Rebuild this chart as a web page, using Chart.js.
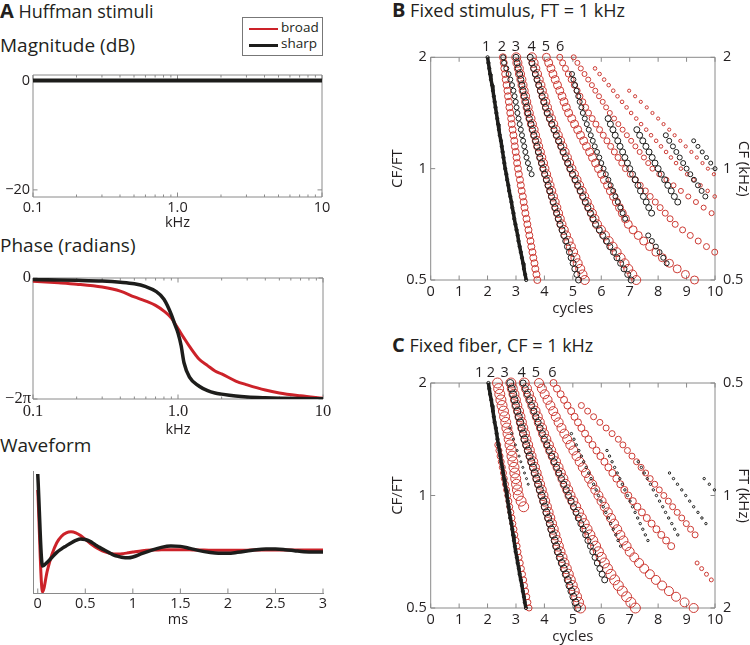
<!DOCTYPE html>
<html><head><meta charset="utf-8">
<script src="https://cdn.jsdelivr.net/npm/chart.js@4/dist/chart.umd.min.js"></script>
<style>
html,body{margin:0;padding:0;overflow:hidden;background:#fff}
body{width:750px;height:645px;position:relative;font-family:'Open Sans',sans-serif;color:#231f20}
.t{position:absolute;white-space:nowrap;line-height:1}
canvas{position:absolute}
</style></head><body>
<div class="t" style="left:0;top:1px;font-size:18px"><b style="font-size:20px">A</b> Huffman stimuli</div>
<div class="t" style="left:0;top:36px;font-size:19px">Magnitude (dB)</div>
<div class="t" style="left:0;top:236px;font-size:19px">Phase (radians)</div>
<div class="t" style="left:0;top:436px;font-size:19px">Waveform</div>
<div class="t" style="left:392px;top:0;font-size:18px"><b style="font-size:20px">B</b> Fixed stimulus, FT = 1 kHz</div>
<div class="t" style="left:392px;top:335px;font-size:18px"><b style="font-size:20px">C</b> Fixed fiber, CF = 1 kHz</div>

<div style="position:absolute;left:242px;top:17px;width:79px;height:37px;border:1px solid #777;background:#fff;z-index:2">
  <div style="position:absolute;left:6px;top:9.5px;width:29px;height:2.5px;background:#cc2229"></div>
  <div class="t" style="left:38px;top:2.5px;font-size:13.5px">broad</div>
  <div style="position:absolute;left:6px;top:25.5px;width:29px;height:3px;background:#1d1d1b"></div>
  <div class="t" style="left:38px;top:19px;font-size:13.5px">sharp</div>
</div>

<canvas id="mag" width="345" height="180" style="left:0;top:55px"></canvas>
<canvas id="phase" width="345" height="185" style="left:0;top:260px"></canvas>
<canvas id="wave" width="345" height="180" style="left:0;top:460px"></canvas>
<canvas id="pB" width="375" height="290" style="left:380px;top:30px"></canvas>
<canvas id="pC" width="375" height="290" style="left:380px;top:358px"></canvas>

<script>
// ---------------- DATA ----------------
const _ = null;
// Magnitude
const magFreqs = [0.1, 10];
const magBroad = [0, 0];
const magSharp = [0, 0];
// Phase (radians)
const phaseFreqs = [0.1,0.15,0.2,0.3,0.4,0.5,0.6,0.7,0.8,0.9,0.95,1.0,1.05,1.1,1.2,1.4,1.6,1.8,2,2.5,3,4,5,7,10];
const phaseBroad = [-0.17,-0.25,-0.32,-0.47,-0.68,-0.98,-1.2,-1.42,-1.72,-2.08,-2.35,-2.62,-2.88,-3.12,-3.55,-4.22,-4.55,-4.83,-4.98,-5.35,-5.55,-5.82,-5.97,-6.12,-6.25];
const phaseSharp = [-0.08,-0.1,-0.12,-0.16,-0.22,-0.3,-0.45,-0.68,-1.1,-1.9,-2.4,-2.86,-3.5,-4.4,-5.15,-5.62,-5.85,-5.97,-6.03,-6.13,-6.18,-6.22,-6.24,-6.26,-6.27];
// Waveform
const waveTimes = [0,0.05,0.1,0.15,0.2,0.25,0.3,0.35,0.4,0.45,0.5,0.55,0.6,0.65,0.7,0.75,0.8,0.85,0.9,0.95,1.0,1.1,1.2,1.3,1.4,1.5,1.6,1.7,1.8,1.9,2.0,2.1,2.2,2.3,2.4,2.5,2.6,2.7,2.8,2.9,3.0];
const waveSharp = [7.8,-1.47,-1.1,-0.6,-0.1,0.25,0.55,0.85,1.1,1.25,1.2,1.0,0.7,0.4,0.13,-0.13,-0.37,-0.52,-0.63,-0.65,-0.57,-0.2,0.13,0.4,0.53,0.5,0.3,0.07,-0.1,-0.2,-0.2,-0.1,0.03,0.17,0.23,0.23,0.17,0.07,-0.03,-0.07,-0.07];
const waveBroad = [6.2,-4.1,-1.97,-0.3,0.87,1.53,1.87,1.97,1.87,1.6,1.2,0.82,0.47,0.2,-0.03,-0.18,-0.27,-0.28,-0.23,-0.15,-0.07,0.07,0.13,0.15,0.17,0.17,0.15,0.13,0.12,0.1,0.1,0.11,0.12,0.13,0.13,0.13,0.13,0.13,0.13,0.13,0.13];

// tick values / labels
const freqTicks = [0.1,0.2,0.3,0.4,0.5,0.6,0.7,0.8,0.9,1,2,3,4,5,6,7,8,9,10];
const freqMajor = [0.1,1,10];
const freqLabels = {'0.1':'0.1','1':'1.0','10':'10'};
const magTicks = [-20, 0];
const magLabels = {'-20':'\u221220','0':'0'};
const phaseTicks = [-2*Math.PI, 0];
const phaseLabels = ['\u22122\u03c0','0'];
const msTicks = [0,0.5,1,1.5,2,2.5,3];
const cycTicks = [0,1,2,3,4,5,6,7,8,9,10];
const ratioTicks = [0.5,1,2];
const ratioLabels = {'0.5':'0.5','1':'1','2':'2'};
const peakLabels = ['1','2','3','4','5','6'];
const peakPosB = [1.95,2.5,3.0,3.55,4.05,4.55];
const peakPosC = [1.7,2.12,2.6,3.2,3.7,4.28];

// CF/FT rows (top to bottom)
const cfGrid = [2,1.9319,1.8661,1.8025,1.7411,1.6818,1.6245,1.5692,1.5157,1.4641,1.4142,1.3660,1.3195,1.2746,1.2311,1.1892,1.1487,1.1096,1.0718,1.0353,1,0.9659,0.9330,0.9013,0.8706,0.8409,0.8123,0.7846,0.7579,0.7320,0.7071,0.6830,0.6598,0.6373,0.6156,0.5946,0.5743,0.5548,0.5359,0.5176,0.5];

// Panel B peak times (cycles) - sharp (black)
const bK1 = [2.00,2.03,2.06,2.09,2.12,2.16,2.19,2.22,2.25,2.28,2.31,2.34,2.37,2.40,2.43,2.47,2.50,2.53,2.56,2.59,2.62,2.66,2.69,2.73,2.76,2.80,2.84,2.87,2.91,2.94,2.98,3.02,3.06,3.09,3.13,3.17,3.21,3.25,3.28,3.32,3.36];
const bK2 = [2.55,2.58,2.66,2.74,2.80,2.86,2.91,2.95,2.99,3.02,3.05,3.09,3.13,3.17,3.21,3.25,3.29,3.33,3.37,3.42,3.48,3.55,_,_,_,_,_,_,_,_,_,_,_,_,_,_,_,_,_,_,_];
const bK3 = [3.00,3.04,3.08,3.13,3.17,3.21,3.25,3.29,3.34,3.38,3.42,3.47,3.53,3.58,3.63,3.69,3.74,3.79,3.84,3.90,3.95,4.01,4.07,4.13,4.19,4.25,4.31,4.37,4.43,4.49,4.55,4.62,4.68,4.75,4.81,4.88,4.94,5.01,5.07,5.14,5.20];
const bK4 = [3.50,3.56,3.62,3.68,3.74,3.80,3.86,3.92,3.98,4.04,4.10,4.18,4.26,4.34,4.42,4.50,4.58,4.66,4.74,4.82,4.90,4.99,5.08,5.17,5.26,5.35,5.44,5.53,5.62,5.71,5.80,5.93,6.05,6.18,6.30,6.43,6.55,6.68,6.80,6.93,7.05];
const bK5 = [_,_,_,4.97,5.02,5.08,5.13,5.19,5.24,5.30,5.35,5.42,5.49,5.56,5.63,5.70,5.77,5.85,5.93,6.00,6.08,6.16,6.25,6.33,6.42,6.50,6.58,6.67,6.75,6.84,_,_,_,_,_,_,_,_,_,_,_];
const bK6 = [_,_,_,_,_,_,_,_,_,_,_,6.24,6.32,6.41,6.49,6.58,6.66,6.75,6.83,6.92,7.00,7.10,7.19,7.29,7.38,7.48,7.58,7.67,7.77,_,_,_,_,_,_,_,_,_,_,_,_];
const bK7 = [_,_,_,_,_,_,_,_,_,_,_,_,_,7.25,7.35,7.46,7.57,7.68,7.79,7.89,8.00,8.11,8.23,8.34,8.46,8.57,8.69,_,_,_,_,_,_,_,_,_,_,_,_,_,_];
const bK8 = [_,_,_,_,_,_,_,_,_,_,_,_,_,_,8.27,8.39,8.52,8.64,8.76,8.88,9.00,9.13,9.26,9.40,9.53,9.66,_,_,_,_,_,_,_,_,_,_,_,_,_,_,_];
const bK9 = [_,_,_,_,_,_,_,_,_,_,_,_,_,_,_,9.25,9.40,9.55,9.70,9.85,10.0,_,_,_,_,_,_,_,_,_,_,_,_,_,_,_,_,_,_,_,_];
const bK10 = [_,_,_,_,_,_,_,_,_,_,_,_,_,_,_,_,_,_,_,_,_,_,_,_,_,_,_,_,_,_,_,_,7.65,7.78,7.92,8.05,8.18,8.30,_,_,_];
// Panel B - broad (red)
const bR1 = [2.54,2.57,2.59,2.62,2.64,2.67,2.70,2.72,2.75,2.77,2.80,2.83,2.85,2.88,2.91,2.94,2.96,2.99,3.02,3.04,3.07,3.10,3.14,3.17,3.20,3.24,3.27,3.30,3.33,3.37,3.40,3.44,3.47,3.51,3.54,3.58,3.61,3.65,3.68,3.72,3.75];
const bR2 = [3.01,3.05,3.10,3.14,3.19,3.23,3.27,3.32,3.36,3.41,3.45,3.51,3.56,3.62,3.67,3.73,3.78,3.84,3.89,3.95,4.00,4.06,4.12,4.18,4.24,4.30,4.36,4.42,4.48,4.54,4.60,4.68,4.76,4.85,4.93,5.01,5.09,5.17,5.26,5.34,5.42];
const bR3 = [3.56,3.62,3.68,3.74,3.80,3.86,3.91,3.97,4.03,4.09,4.15,4.23,4.31,4.39,4.47,4.55,4.63,4.71,4.79,4.87,4.95,5.04,5.13,5.22,5.31,5.40,5.49,5.58,5.67,5.76,5.85,5.99,6.13,6.26,6.40,6.54,6.68,6.82,6.95,7.09,7.23];
const bR4 = [4.07,4.15,4.23,4.30,4.38,4.46,4.54,4.62,4.69,4.77,4.85,4.96,5.06,5.17,5.27,5.38,5.48,5.59,5.69,5.80,5.90,6.01,6.11,6.22,6.32,6.43,6.53,6.64,6.74,6.85,6.95,7.12,7.30,7.49,7.70,7.92,8.15,8.40,8.67,8.96,9.28];
const bR5 = [4.54,4.64,4.74,4.84,4.94,5.05,5.15,5.25,5.35,5.45,5.55,5.68,5.81,5.94,6.07,6.20,6.33,6.46,6.59,6.72,6.85,7.02,7.20,7.37,7.55,7.72,7.90,8.07,8.25,8.42,8.60,8.86,9.13,9.41,9.70,9.99,_,_,_,_,_];
const bR6 = [5.03,5.16,5.28,5.41,5.54,5.67,5.79,5.92,6.05,6.17,6.30,6.45,6.60,6.75,6.90,7.05,7.20,7.35,7.50,7.65,7.80,8.04,8.29,8.54,8.80,9.06,9.33,9.60,9.88,_,_,_,_,_,_,_,_,_,_,_,_];
const bR7 = [_,_,5.78,5.94,6.10,6.26,6.42,6.57,6.73,6.89,7.05,7.23,7.40,7.58,7.75,7.93,8.10,8.28,8.45,8.63,8.80,9.02,9.25,9.49,9.74,9.99,_,_,_,_,_,_,_,_,_,_,_,_,_,_,_];
const bR8 = [_,_,_,_,_,_,6.98,7.19,7.39,7.60,7.80,8.00,8.19,8.39,8.58,8.78,8.97,9.17,9.36,9.56,9.75,9.96,_,_,_,_,_,_,_,_,_,_,_,_,_,_,_,_,_,_,_];

// Panel C - sharp (black)
const cK1 = [2.03,2.06,2.09,2.13,2.16,2.19,2.22,2.25,2.29,2.32,2.35,2.38,2.42,2.45,2.48,2.52,2.55,2.58,2.61,2.65,2.68,2.71,2.74,2.77,2.80,2.84,2.87,2.90,2.93,2.96,2.99,3.03,3.06,3.10,3.13,3.17,3.21,3.24,3.28,3.31,3.35];
const cK2 = [_,_,_,_,_,_,_,_,2.78,2.85,2.91,2.98,3.04,3.11,3.17,3.24,3.30,3.37,3.43,_,_,_,_,_,_,_,_,_,_,_,_,_,_,_,_,_,_,_,_,_,_];
const cK3 = [2.80,2.85,2.90,2.95,3.00,3.05,3.10,3.15,3.20,3.25,3.30,3.36,3.42,3.48,3.54,3.60,3.66,3.72,3.78,3.84,3.90,3.96,4.01,4.07,4.13,4.19,4.24,4.30,4.36,4.41,4.47,4.54,4.61,4.68,4.75,4.82,4.88,4.95,5.02,5.09,5.16];
const cK4 = [3.25,3.33,3.40,3.48,3.55,3.63,3.70,3.78,3.85,3.93,4.00,4.09,4.17,4.26,4.34,4.43,4.51,4.60,4.68,4.77,4.85,4.94,5.02,5.11,5.19,5.28,5.36,5.45,5.53,5.62,5.70,5.78,5.86,5.95,6.03,6.12,_,_,_,_,_];
const cK5 = [_,_,_,_,_,_,_,_,_,4.95,5.04,5.12,5.21,5.30,5.38,5.47,5.56,5.64,5.73,5.82,5.90,5.99,6.07,6.16,6.25,6.33,6.42,6.51,6.59,6.68,_,_,_,_,_,_,_,_,_,_,_];
const cK6 = [_,_,_,_,_,_,_,_,_,_,_,_,6.20,6.29,6.38,6.47,6.56,6.65,6.74,6.83,6.92,7.01,7.10,7.19,7.28,7.37,7.46,7.55,7.64,_,_,_,_,_,_,_,_,_,_,_,_];
const cK7 = [_,_,_,_,_,_,_,_,_,_,_,_,_,_,7.30,7.41,7.51,7.62,7.73,7.83,7.94,8.05,8.16,8.26,8.37,8.48,8.58,8.69,_,_,_,_,_,_,_,_,_,_,_,_,_];
const cK8 = [_,_,_,_,_,_,_,_,_,_,_,_,_,_,_,_,8.40,8.54,8.68,8.83,8.97,9.11,9.25,9.40,9.54,9.68,_,_,_,_,_,_,_,_,_,_,_,_,_,_,_];
const cK9 = [_,_,_,_,_,_,_,_,_,_,_,_,_,_,_,_,_,9.62,9.80,9.98,_,_,_,_,_,_,_,_,_,_,_,_,_,_,_,_,_,_,_,_,_];
// Panel C - broad (red)
const cR0 = [_,_,_,_,_,_,_,_,_,_,_,2.36,2.40,2.44,2.48,2.52,2.56,2.59,2.63,2.67,2.71,2.75,2.78,2.82,2.86,2.89,2.93,2.96,3.00,3.04,3.07,3.11,3.15,3.19,3.23,3.27,3.30,3.34,3.38,3.42,3.46];
const cR1 = [2.35,2.39,2.43,2.47,2.51,2.56,2.60,2.64,2.68,2.72,2.76,2.79,2.83,2.86,2.89,2.93,2.96,2.99,3.02,3.05,3.08,3.18,3.27,_,_,_,_,_,_,_,_,_,_,_,_,_,_,_,_,_,_];
const cR2 = [2.82,2.87,2.93,2.98,3.03,3.09,3.14,3.19,3.24,3.30,3.35,3.41,3.47,3.53,3.59,3.65,3.71,3.77,3.83,3.89,3.95,4.01,4.07,4.13,4.19,4.25,4.31,4.37,4.43,4.49,4.55,4.62,4.69,4.77,4.84,4.91,4.98,5.05,5.13,5.20,5.27];
const cR3 = [3.29,3.37,3.44,3.52,3.59,3.67,3.75,3.82,3.90,3.97,4.05,4.14,4.22,4.31,4.39,4.48,4.56,4.65,4.73,4.82,4.90,5.00,5.10,5.20,5.30,5.40,5.50,5.60,5.70,5.80,5.90,6.00,6.11,6.22,6.34,6.47,6.60,6.74,6.89,7.04,7.20];
const cR4 = [3.81,3.91,4.01,4.11,4.21,4.31,4.40,4.50,4.60,4.70,4.80,4.91,5.02,5.13,5.24,5.35,5.46,5.57,5.68,5.79,5.90,6.01,6.12,6.23,6.34,6.45,6.56,6.67,6.78,6.89,7.00,7.16,7.33,7.51,7.71,7.92,8.14,8.38,8.63,8.93,9.25];
const cR5 = [4.32,4.44,4.57,4.69,4.81,4.94,5.06,5.18,5.30,5.43,5.55,5.69,5.83,5.97,6.11,6.25,6.39,6.53,6.67,6.81,6.95,7.11,7.27,7.43,7.60,7.77,7.94,8.11,8.28,8.46,_,_,_,_,_,_,_,_,_,_,_];
const cR6 = [_,_,_,_,5.30,5.52,5.73,5.95,6.17,6.38,6.60,6.76,6.92,7.08,7.24,7.40,7.56,7.72,7.88,8.04,8.20,8.36,8.51,8.67,8.83,8.99,9.14,9.30,_,_,_,_,_,_,_,_,_,_,_,_,_];
const cR7 = [_,_,_,_,_,_,_,_,_,_,_,_,_,_,_,_,_,_,_,_,_,_,_,_,_,_,_,_,_,_,_,_,9.37,9.53,9.70,9.87,_,_,_,_,_];

// ---------------- STYLE ----------------
const FONT = "'Open Sans', sans-serif";
const SERIF = "'Liberation Serif', 'DejaVu Serif', serif";
const RED = '#cc2229', RED_C = '#cc3a33', BLACK = '#1d1d1b', AXIS = '#8a8a8a', TXT = '#231f20';
Chart.defaults.font.family = FONT;
Chart.defaults.color = TXT;

function fix(size, horiz) {
  return function (s) {
    if (horiz) s.height = size; else s.width = size;
    s.paddingLeft = 0; s.paddingRight = 0; s.paddingTop = 0; s.paddingBottom = 0;
  };
}
function setTicks(vals) { return s => { s.ticks = vals.map(v => ({ value: v })); }; }
function xy(xs, ys) { return xs.map((x, i) => ({ x: x, y: ys[i] })); }
function pts(arr) { const o = []; arr.forEach((x, i) => { if (x !== null) o.push({ x: x, y: cfGrid[i] }); }); return o; }

const axesPlugin = {
  id: 'mAxes',
  beforeDatasetsDraw(chart, args, o) {
    const { ctx, chartArea: a, scales } = chart;
    ctx.save();
    ctx.strokeStyle = AXIS; ctx.lineWidth = 1;
    ctx.beginPath();
    const L = a.left, R = a.right, T = a.top, B = a.bottom;
    if (o.box) ctx.rect(L, T, R - L, B - T);
    (o.xTicks || []).forEach(v => {
      const p = scales.x.getPixelForValue(v);
      const len = (o.xMajor && o.xMajor.indexOf(v) < 0) ? 2.5 : 4.5;
      ctx.moveTo(p, B); ctx.lineTo(p, B - len);
      if (o.box) { ctx.moveTo(p, T); ctx.lineTo(p, T + len); }
    });
    (o.yTicks || []).forEach(v => {
      const p = scales.y.getPixelForValue(v);
      ctx.moveTo(L, p); ctx.lineTo(L + 4.5, p);
      if (o.box) { ctx.moveTo(R, p); ctx.lineTo(R - 4.5, p); }
    });
    ctx.stroke();
    ctx.restore();
  }
};
const topLabelPlugin = {
  id: 'topLabels',
  afterDraw(chart, args, o) {
    if (!o.xs) return;
    const { ctx, chartArea: a, scales } = chart;
    ctx.save();
    ctx.fillStyle = TXT; ctx.font = '14.5px ' + FONT;
    ctx.textAlign = 'center'; ctx.textBaseline = 'middle';
    o.xs.forEach((v, i) => ctx.fillText(o.labels[i], scales.x.getPixelForValue(v), a.top - o.dy));
    ctx.restore();
  }
};

function lineDs(data, color, w) {
  return { data: data, showLine: true, borderColor: color, borderWidth: w, pointRadius: 0, cubicInterpolationMode: 'monotone', fill: false };
}
function tickFont(fam, size) { return { family: fam, size: size }; }

function make(id, padding, scales, datasets, axes, tops) {
  return new Chart(document.getElementById(id), {
    type: 'scatter',
    data: { datasets: datasets },
    options: {
      responsive: false, animation: false, events: [],
      layout: { padding: padding },
      plugins: { legend: { display: false }, tooltip: { enabled: false }, mAxes: axes, topLabels: tops || {} },
      scales: scales
    },
    plugins: [axesPlugin, topLabelPlugin]
  });
}
const noGrid = { display: false, drawTicks: false };
const noBorder = { display: false };

// ---------- Magnitude ----------
make('mag', { top: 20, right: 23, left: 0, bottom: 0 }, {
  x: { type: 'logarithmic', min: 0.1, max: 10, afterBuildTicks: setTicks(freqTicks), afterFit: fix(38, true),
       grid: noGrid, border: noBorder,
       ticks: { autoSkip: false, maxRotation: 0, padding: 2, font: tickFont(FONT, 14.5), callback: v => freqLabels[String(v)] || '' },
       title: { display: true, text: 'kHz', font: { size: 14.5 }, padding: { top: 0, bottom: 3 } } },
  y: { type: 'linear', min: -21.3, max: 1, afterBuildTicks: setTicks(magTicks), afterFit: fix(33, false),
       grid: noGrid, border: noBorder,
       ticks: { padding: 3, font: tickFont(FONT, 14.5), callback: v => magLabels[String(v)] } }
}, [
  lineDs(xy(magFreqs, magSharp), BLACK, 4),
  lineDs(xy(magFreqs, magBroad), RED, 3)
], { box: true, xTicks: freqTicks, xMajor: freqMajor, yTicks: magTicks });

// ---------- Phase ----------
make('phase', { top: 18, right: 22, left: 0, bottom: 0 }, {
  x: { type: 'logarithmic', min: 0.1, max: 10, afterBuildTicks: setTicks(freqTicks), afterFit: fix(46, true),
       grid: noGrid, border: noBorder,
       ticks: { autoSkip: false, maxRotation: 0, padding: 3, font: tickFont(SERIF, 16.5), callback: v => freqLabels[String(v)] || '' },
       title: { display: true, text: 'kHz', font: { size: 14.5 }, padding: { top: 0, bottom: 6 } } },
  y: { type: 'linear', min: -2 * Math.PI, max: 0, afterBuildTicks: setTicks(phaseTicks), afterFit: fix(33, false),
       grid: noGrid, border: noBorder,
       ticks: { padding: 2, font: tickFont(SERIF, 16.5), callback: (v, i) => phaseLabels[i] } }
}, [
  lineDs(xy(phaseFreqs, phaseSharp), BLACK, 3.5),
  lineDs(xy(phaseFreqs, phaseBroad), RED, 3)
], { box: true, xTicks: freqTicks, xMajor: freqMajor, yTicks: phaseTicks });

// ---------- Waveform ----------
make('wave', { top: 11, right: 22, left: 0, bottom: 0 }, {
  x: { type: 'linear', min: -0.05, max: 3, afterBuildTicks: setTicks(msTicks), afterFit: fix(47, true),
       grid: noGrid, border: { display: true, color: AXIS, width: 1 },
       ticks: { autoSkip: false, maxRotation: 0, padding: 2, font: tickFont(FONT, 14.5), callback: v => String(v) },
       title: { display: true, text: 'ms', font: { size: 14.5 }, padding: { top: 0, bottom: 11 } } },
  y: { type: 'linear', min: -4.2, max: 8.1, afterFit: fix(33, false),
       grid: noGrid, border: { display: true, color: AXIS, width: 1 },
       ticks: { display: false } }
}, [
  lineDs(xy(waveTimes, waveSharp), BLACK, 3.5),
  lineDs(xy(waveTimes, waveBroad), RED, 3)
], { box: false, xTicks: msTicks });

// ---------- Scatter panels ----------
function ring(arr, color, r) {
  return { data: pts(arr), showLine: false, pointRadius: r, pointBorderWidth: 1, pointBorderColor: color,
           pointBackgroundColor: 'rgba(0,0,0,0)', clip: false };
}
function thick(arr) {
  return { data: pts(arr), showLine: true, borderColor: BLACK, borderWidth: 3.5, pointRadius: 1.6, pointBorderWidth: 1,
           pointBorderColor: BLACK, pointBackgroundColor: 'rgba(0,0,0,0)', clip: false };
}
function scatterScales(rightTitle, rightReverse) {
  return {
    x: { type: 'linear', min: 0, max: 10, afterBuildTicks: setTicks(cycTicks), afterFit: fix(40, true),
         grid: noGrid, border: noBorder,
         ticks: { autoSkip: false, maxRotation: 0, padding: 3, font: tickFont(FONT, 14.5), callback: v => String(v) },
         title: { display: true, text: 'cycles', font: { size: 15 }, padding: { top: 0, bottom: 2 } } },
    y: { type: 'logarithmic', min: 0.5, max: 2, afterBuildTicks: setTicks(ratioTicks), afterFit: fix(50.7, false),
         grid: noGrid, border: noBorder,
         ticks: { padding: 4, font: tickFont(FONT, 14.5), callback: v => ratioLabels[String(v)] },
         title: { display: true, text: 'CF/FT', font: { size: 15 }, padding: { top: 9, bottom: 0 } } },
    y2: { type: 'logarithmic', position: 'right', min: 0.5, max: 2, reverse: rightReverse,
          afterBuildTicks: setTicks(ratioTicks), afterFit: fix(40, false),
          grid: noGrid, border: noBorder,
          ticks: { padding: 8, font: tickFont(FONT, 14.5), callback: v => ratioLabels[String(v)] },
          title: { display: true, text: rightTitle, font: { size: 15 }, padding: { top: 3, bottom: 0 } } }
  };
}

make('pB', { top: 27.3, right: 0, left: 0, bottom: 0 }, scatterScales('CF (kHz)', false), [
  thick(bK1),
  ring(bK2, BLACK, 2.5), ring(bK3, BLACK, 3), ring(bK4, BLACK, 3), ring(bK5, BLACK, 2.5),
  ring(bK6, BLACK, 3), ring(bK7, BLACK, 3), ring(bK8, BLACK, 2.5), ring(bK9, BLACK, 2), ring(bK10, BLACK, 2.5),
  ring(bR1, RED_C, 3.5), ring(bR2, RED_C, 4.5), ring(bR3, RED_C, 4.5), ring(bR4, RED_C, 4),
  ring(bR5, RED_C, 3), ring(bR6, RED_C, 2.5), ring(bR7, RED_C, 1.8), ring(bR8, RED_C, 1.6)
], { box: true, xTicks: cycTicks, yTicks: ratioTicks }, { xs: peakPosB, labels: peakLabels, dy: 10.5 });

make('pC', { top: 25, right: 0, left: 0, bottom: 0 }, scatterScales('FT (kHz)', true), [
  thick(cK1),
  ring(cK2, BLACK, 1), ring(cK3, BLACK, 3.5), ring(cK4, BLACK, 3),
  ring(cK5, BLACK, 1.2), ring(cK6, BLACK, 1.2), ring(cK7, BLACK, 1.2), ring(cK8, BLACK, 1.2), ring(cK9, BLACK, 1.2),
  ring(cR0, RED_C, 3), ring(cR1, RED_C, 5), ring(cR2, RED_C, 5), ring(cR3, RED_C, 5),
  ring(cR4, RED_C, 4.5), ring(cR5, RED_C, 3.5), ring(cR6, RED_C, 3), ring(cR7, RED_C, 2)
], { box: true, xTicks: cycTicks, yTicks: ratioTicks }, { xs: peakPosC, labels: peakLabels, dy: 10 });
</script>
</body></html>
